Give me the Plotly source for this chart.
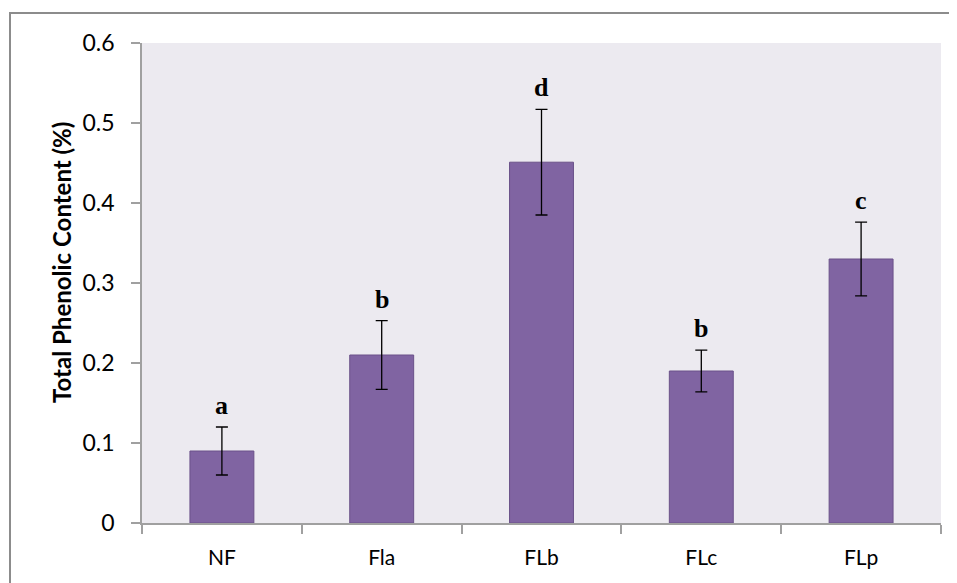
import plotly.graph_objects as go

categories = ["NF", "Fla", "FLb", "FLc", "FLp"]
values = [0.09, 0.21, 0.451, 0.19, 0.33]
errors = [0.030, 0.043, 0.066, 0.026, 0.046]
letters = ["a", "b", "d", "b", "c"]
y_ticks = [0, 0.1, 0.2, 0.3, 0.4, 0.5, 0.6]
y_tick_labels = ["0", "0.1", "0.2", "0.3", "0.4", "0.5", "0.6"]

fig = go.Figure()
fig.add_trace(go.Bar(
    x=categories, y=values,
    width=0.4,
    marker=dict(color="#8064A2", line=dict(color="#6A5189", width=1)),
    error_y=dict(type="data", array=errors, visible=True,
                 color="#000000", thickness=1.3, width=6),
))

for c, v, e, t in zip(categories, values, errors, letters):
    fig.add_annotation(x=c, y=v + e, text="<b>" + t + "</b>", showarrow=False,
                       yanchor="bottom", yshift=5,
                       font=dict(family="Liberation Serif", size=26, color="#000"))

fig.add_annotation(xref="paper", yref="paper", x=-0.1, y=0.542,
                   text="Total Phenolic Content (%)", textangle=-90,
                   showarrow=False, xanchor="center", yanchor="middle",
                   font=dict(family="Lato", size=24, color="#000",
                             weight="bold"))

fig.add_shape(type="rect", xref="paper", yref="paper",
              x0=-0.1652, y0=-0.4, x1=1.3, y1=1.0625,
              line=dict(color="#8C8C8C", width=2), fillcolor="rgba(0,0,0,0)",
              layer="below")

fig.update_layout(
    width=949, height=575,
    margin=dict(l=134, r=16, t=35, b=60),
    paper_bgcolor="white",
    plot_bgcolor="#ECEAF0",
    showlegend=False,
    font=dict(family="Lato", color="#000"),
    bargap=0.6,
)
fig.update_xaxes(
    showline=True, linecolor="#A0A0A0", linewidth=1.5,
    ticks="outside", tickson="boundaries", ticklen=9, tickcolor="#A0A0A0",
    tickwidth=1.5, tickfont=dict(size=21, family="Lato", color="#000"),
    ticklabelstandoff=15, showgrid=False,
)
fig.update_yaxes(
    range=[0, 0.6], tickvals=y_ticks, ticktext=y_tick_labels,
    showline=True, linecolor="#A0A0A0", linewidth=1.5,
    ticks="outside", ticklen=9, tickcolor="#A0A0A0", tickwidth=1.5,
    tickfont=dict(size=23, family="Lato", color="#000"),
    ticklabelstandoff=12, showgrid=False, zeroline=False,
)

fig.write_html("out.html")
